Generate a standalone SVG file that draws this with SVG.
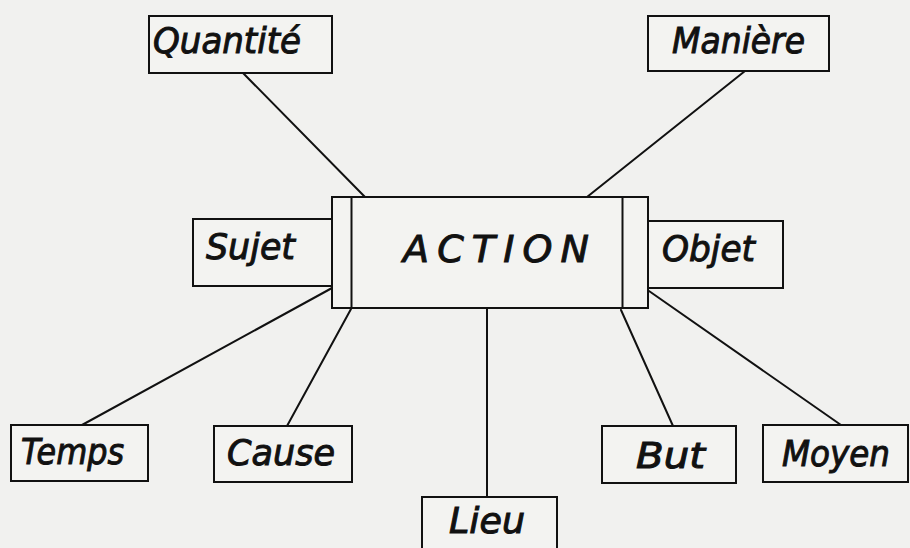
<svg xmlns="http://www.w3.org/2000/svg" width="910" height="548" viewBox="0 0 910 548">
  <style>
    .bg { fill: #f1f1ef; }
    .box { fill: #f3f3f1; stroke: #111; stroke-width: 2; }
    .conn line { stroke: #111; stroke-width: 2; stroke-linecap: round; }
    .lbl { font-family: "DejaVu Sans", "Liberation Sans", sans-serif; font-style: oblique; font-size: 35px; fill: #111; stroke: #111; stroke-width: 1; font-weight: normal; }
    .big { font-size: 38px; }
  </style>
  <rect class="bg" x="0" y="0" width="910" height="548"/>

  <g id="connectors" class="conn">
    <line x1="243" y1="73" x2="365" y2="197"/>
    <line x1="745" y1="71" x2="587" y2="197"/>
    <line x1="82" y1="425" x2="332" y2="288"/>
    <line x1="287" y1="426" x2="351" y2="309"/>
    <line x1="487" y1="309" x2="487" y2="497"/>
    <line x1="621" y1="310" x2="673" y2="426"/>
    <line x1="649" y1="291" x2="841" y2="425"/>
  </g>

  <g id="node-action">
    <rect class="box" x="332" y="197" width="316" height="111"/>
    <line x1="351.5" y1="197" x2="351.5" y2="308" stroke="#111" stroke-width="2"/>
    <line x1="622.5" y1="197" x2="622.5" y2="308" stroke="#111" stroke-width="2"/>
    <text class="lbl big" x="403" y="262" textLength="186" lengthAdjust="spacing">ACTION</text>
  </g>

  <g id="node-quantite">
    <rect class="box" x="149" y="16" width="183" height="57"/>
    <text class="lbl" x="153" y="53" textLength="148" lengthAdjust="spacingAndGlyphs">Quantité</text>
  </g>

  <g id="node-maniere">
    <rect class="box" x="648" y="16" width="181" height="55"/>
    <text class="lbl" x="672" y="53" textLength="133" lengthAdjust="spacingAndGlyphs">Manière</text>
  </g>

  <g id="node-sujet">
    <rect class="box" x="193" y="219" width="139" height="67"/>
    <text class="lbl" x="206" y="259" textLength="89" lengthAdjust="spacingAndGlyphs">Sujet</text>
  </g>

  <g id="node-objet">
    <rect class="box" x="648" y="221" width="135" height="67"/>
    <text class="lbl" x="662" y="261" textLength="93" lengthAdjust="spacingAndGlyphs">Objet</text>
  </g>

  <g id="node-temps">
    <rect class="box" x="11" y="425" width="137" height="56"/>
    <text class="lbl" x="21" y="464" textLength="103" lengthAdjust="spacingAndGlyphs">Temps</text>
  </g>

  <g id="node-cause">
    <rect class="box" x="214" y="426" width="138" height="56"/>
    <text class="lbl" x="227" y="465" textLength="108" lengthAdjust="spacingAndGlyphs">Cause</text>
  </g>

  <g id="node-lieu">
    <rect class="box" x="422" y="497" width="135" height="60"/>
    <text class="lbl" x="449" y="533" textLength="76" lengthAdjust="spacingAndGlyphs">Lieu</text>
  </g>

  <g id="node-but">
    <rect class="box" x="602" y="426" width="134" height="57"/>
    <text class="lbl" x="636" y="468" textLength="69" lengthAdjust="spacingAndGlyphs">But</text>
  </g>

  <g id="node-moyen">
    <rect class="box" x="763" y="425" width="145" height="57"/>
    <text class="lbl" x="782" y="466" textLength="108" lengthAdjust="spacingAndGlyphs">Moyen</text>
  </g>
</svg>
